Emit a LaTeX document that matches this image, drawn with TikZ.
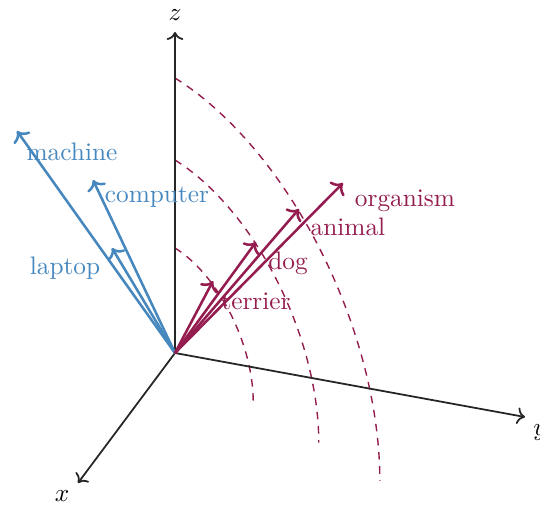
\documentclass[tikz,border=0pt]{standalone}
\usetikzlibrary{arrows.meta}
\definecolor{vblue}{RGB}{70,135,190}
\definecolor{vred}{RGB}{148,28,78}
\begin{document}
\begin{tikzpicture}[x=0.395pt,y=-0.395pt,
  axis/.style={line width=0.7pt,black!85,->},
  bvec/.style={line width=1pt,vblue,->},
  rvec/.style={line width=1pt,vred,->},
  arcline/.style={vred,line width=0.55pt,dash pattern=on 3pt off 2.6pt},
  blab/.style={text=vblue,inner sep=0pt},
  rlab/.style={text=vred,inner sep=0pt}]
\useasboundingbox (0,0) rectangle (540,507);
\coordinate (O) at (175,353);
\coordinate (Z) at (175,32);
\coordinate (Y) at (525,417);
\coordinate (X) at (78,483);
% arcs
\foreach \r in {105,193,275}{
  \draw[arcline] plot[domain=0:90,samples=40,smooth] ({175+\r*0.745*sin(\x)},{353-\r*cos(\x)+\r*0.465*sin(\x)});
}
% axes
\draw[axis] (O) -- (Z);
\draw[axis] (O) -- (Y);
\draw[axis] (O) -- (X);
\node (zl) at (175,15) {$z$};
\node (yl) at (540,433) {$y$};
\node (xl) at (62,496) {$x$};
% blue vectors
\coordinate (tm) at (17,131);
\coordinate (tc) at (93,180);
\coordinate (tl) at (112,248);
\draw[bvec] (O) -- (tm);
\draw[bvec] (O) -- (tc);
\draw[bvec] (O) -- (tl);
\node[blab] (lm) at (72,152) {machine};
\node[blab] (lc) at (157,197) {computer};
\node[blab] (ll) at (65,268) {laptop};
% red vectors
\coordinate (to) at (343,183);
\coordinate (ta) at (299,209);
\coordinate (td) at (256,242);
\coordinate (tt) at (213,281);
\draw[rvec] (O) -- (to);
\draw[rvec] (O) -- (ta);
\draw[rvec] (O) -- (td);
\draw[rvec] (O) -- (tt);
\node[rlab] (lo) at (405,201) {organism};
\node[rlab] (la) at (348,227) {animal};
\node[rlab] (ld) at (288,263) {dog};
\node[rlab] (lt) at (256,301) {terrier};
\end{tikzpicture}
\end{document}
